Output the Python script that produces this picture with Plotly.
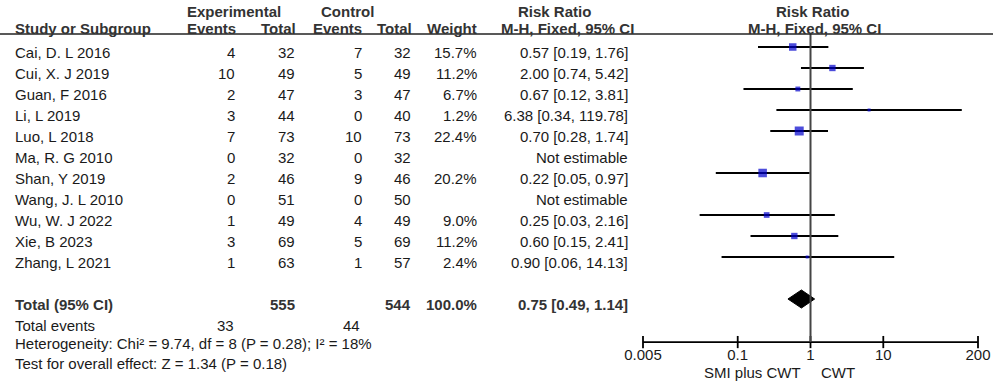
import math
import plotly.graph_objects as go

# ---------------- data ----------------
studies = ["Cai, D. L 2016", "Cui, X. J 2019", "Guan, F 2016", "Li, L 2019", "Luo, L 2018",
           "Ma, R. G 2010", "Shan, Y 2019", "Wang, J. L 2010", "Wu, W. J 2022", "Xie, B 2023",
           "Zhang, L 2021"]
exp_events = [4, 10, 2, 3, 7, 0, 2, 0, 1, 3, 1]
exp_total = [32, 49, 47, 44, 73, 32, 46, 51, 49, 69, 63]
ctrl_events = [7, 5, 3, 0, 10, 0, 9, 0, 4, 5, 1]
ctrl_total = [32, 49, 47, 40, 73, 32, 46, 50, 49, 69, 57]
weights = [15.7, 11.2, 6.7, 1.2, 22.4, None, 20.2, None, 9.0, 11.2, 2.4]
rr = [0.57, 2.00, 0.67, 6.38, 0.70, None, 0.22, None, 0.25, 0.60, 0.90]
ci_lo = [0.19, 0.74, 0.12, 0.34, 0.28, None, 0.05, None, 0.03, 0.15, 0.06]
ci_hi = [1.76, 5.42, 3.81, 119.78, 1.74, None, 0.97, None, 2.16, 2.41, 14.13]

total_exp = 555
total_ctrl = 544
total_weight = 100.0
total_rr = 0.75
total_lo = 0.49
total_hi = 1.14
events_exp = 33
events_ctrl = 44
heterogeneity = "Heterogeneity: Chi² = 9.74, df = 8 (P = 0.28); I² = 18%"
overall = "Test for overall effect: Z = 1.34 (P = 0.18)"
tick_vals = [0.005, 0.1, 1, 10, 200]
tick_text = ["0.005", "0.1", "1", "10", "200"]
favours_left = "SMI plus CWT"
favours_right = "CWT"

# ---------------- style ----------------
W, H = 996, 388
FONT = "Liberation Sans, Arial, sans-serif"
FS = 15
TXT = "#1a1a1a"
BOLD = "#333333"
BLUE = "#0000cc"
TOFF = 0.24  # text offset below row line (rows)

rows = list(range(len(studies)))
total_row = 12
axis_row = 14.05

fig = go.Figure()

# CI lines
for i in rows:
    if rr[i] is None:
        continue
    fig.add_trace(go.Scatter(x=[ci_lo[i], ci_hi[i]], y=[i, i], mode="lines",
                             line=dict(color="black", width=1.8), hoverinfo="skip",
                             showlegend=False, cliponaxis=False))
# squares
xs = [rr[i] for i in rows if rr[i] is not None]
ys = [i for i in rows if rr[i] is not None]
sz = [max(3, 1.9 * math.sqrt(weights[i])) for i in rows if rr[i] is not None]
fig.add_trace(go.Scatter(x=xs, y=ys, mode="markers",
                         marker=dict(symbol="square", size=sz, color=BLUE, line=dict(width=0)),
                         showlegend=False, hoverinfo="skip", cliponaxis=False))

# diamond
dh = 0.43
fig.add_trace(go.Scatter(x=[total_lo, total_rr, total_hi, total_rr, total_lo],
                         y=[total_row, total_row - dh, total_row, total_row + dh, total_row],
                         mode="lines", fill="toself", fillcolor="black",
                         line=dict(color="black", width=1), showlegend=False, hoverinfo="skip"))

# bottom axis
tk = 0.29
ax_x, ax_y = [tick_vals[0], tick_vals[-1]], [axis_row, axis_row]
for v in tick_vals:
    ax_x += [None, v, v]
    ax_y += [None, axis_row - tk, axis_row + tk]
fig.add_trace(go.Scatter(x=ax_x, y=ax_y, mode="lines", line=dict(color="black", width=1.8),
                         showlegend=False, hoverinfo="skip", cliponaxis=False))
fig.add_trace(go.Scatter(x=tick_vals, y=[14.72] * len(tick_vals), mode="text", text=tick_text,
                         textfont=dict(family=FONT, size=FS, color=TXT),
                         showlegend=False, hoverinfo="skip", cliponaxis=False))

# vertical line at 1
fig.add_shape(type="line", xref="x", yref="y", x0=1, x1=1, y0=-0.62, y1=axis_row,
              line=dict(color="#444444", width=2))
# header line
fig.add_shape(type="line", xref="paper", yref="y", x0=0, x1=993 / W, y0=-0.62, y1=-0.62,
              line=dict(color="#222222", width=1.5))


def ann(text, xpx, y, align="right", bold=False, xref="paper"):
    # paper refs take pixel positions; x-axis refs take data values (log axis -> log10)
    x = xpx / W if xref == "paper" else math.log10(xpx)
    fig.add_annotation(text=f"<b>{text}</b>" if bold else text, x=x, y=y, xref=xref, yref="y",
                       xanchor=align, yanchor="middle", showarrow=False, borderpad=0,
                       font=dict(family=FONT, size=FS, color=BOLD if bold else TXT))


# headers
hy1, hy2 = -1.71, -0.86
ann("Experimental", 234, hy1, "center", True)
ann("Control", 347, hy1, "center", True)
ann("Risk Ratio", 554, hy1, "center", True)
ann("Risk Ratio", 812, hy1, "center", True)
ann("Study or Subgroup", 14, hy2, "left", True)
ann("Events", 237, hy2, "right", True)
ann("Total", 297, hy2, "right", True)
ann("Events", 363, hy2, "right", True)
ann("Total", 413, hy2, "right", True)
ann("Weight", 478, hy2, "right", True)
ann("M-H, Fixed, 95% CI", 567, hy2, "center", True)
ann("M-H, Fixed, 95% CI", 814, hy2, "center", True)

# study rows
for i in rows:
    y = i + TOFF
    ann(studies[i], 14, y, "left")
    ann(str(exp_events[i]), 236, y)
    ann(str(exp_total[i]), 296, y)
    ann(str(ctrl_events[i]), 363, y)
    ann(str(ctrl_total[i]), 412, y)
    if weights[i] is not None:
        ann(f"{weights[i]:.1f}%", 478, y)
        ann(f"{rr[i]:.2f} [{ci_lo[i]:.2f}, {ci_hi[i]:.2f}]", 629, y)
    else:
        ann("Not estimable", 629, y)

# totals
y = total_row + TOFF
ann("Total (95% CI)", 14, y, "left", True)
ann(str(total_exp), 296, y, bold=True)
ann(str(total_ctrl), 412, y, bold=True)
ann(f"{total_weight:.1f}%", 478, y, bold=True)
ann(f"{total_rr:.2f} [{total_lo:.2f}, {total_hi:.2f}]", 629, y, bold=True)
ann("Total events", 14, 13.24, "left")
ann(str(events_exp), 235, 13.24)
ann(str(events_ctrl), 361, 13.24)
ann(heterogeneity, 14, 14.14, "left")
ann(overall, 14, 15.05, "left")
ann(favours_left, 0.776, 15.48, "right", xref="x")
ann(favours_right, 1.33, 15.48, "left", xref="x")

pxd = 72.8
ext = 10 / pxd
fig.update_layout(
    width=W, height=H, margin=dict(l=0, r=0, t=0, b=0),
    paper_bgcolor="white", plot_bgcolor="white",
    xaxis=dict(type="log", domain=[633 / W, 988 / W],
               range=[math.log10(0.005) - ext, math.log10(200) + ext], visible=False),
    yaxis=dict(range=[(H - 47) / 21, -47 / 21], visible=False, domain=[0, 1]),
    showlegend=False,
)
fig.write_html("out.html", config={"displayModeBar": False, "staticPlot": True},
               post_script="document.body.style.margin='0';document.body.style.overflow='hidden';")
